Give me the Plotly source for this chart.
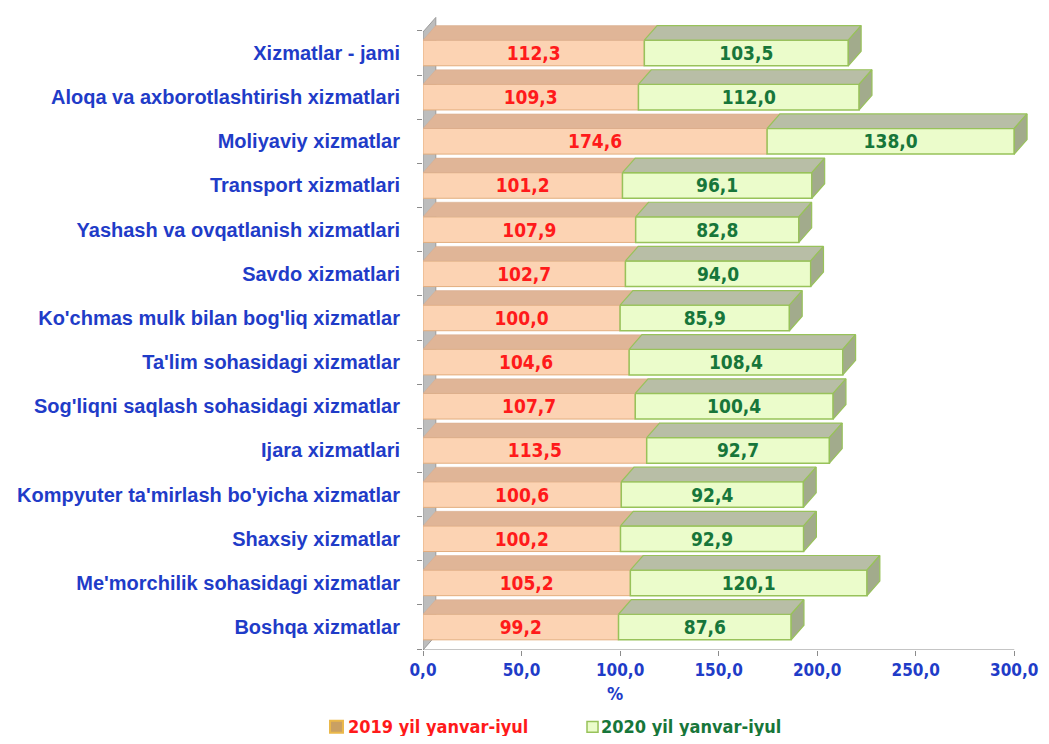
import numpy as np
import plotly.graph_objects as go

categories = [
    "Xizmatlar - jami",
    "Aloqa va axborotlashtirish xizmatlari",
    "Moliyaviy xizmatlar",
    "Transport xizmatlari",
    "Yashash va ovqatlanish xizmatlari",
    "Savdo xizmatlari",
    "Ko'chmas mulk bilan bog'liq xizmatlar",
    "Ta'lim sohasidagi xizmatlar",
    "Sog'liqni saqlash sohasidagi xizmatlar",
    "Ijara xizmatlari",
    "Kompyuter ta'mirlash bo'yicha xizmatlar",
    "Shaxsiy xizmatlar",
    "Me'morchilik sohasidagi xizmatlar",
    "Boshqa xizmatlar",
]
values_2019 = [112.3, 109.3, 174.6, 101.2, 107.9, 102.7, 100.0, 104.6, 107.7, 113.5, 100.6, 100.2, 105.2, 99.2]
values_2020 = [103.5, 112.0, 138.0, 96.1, 82.8, 94.0, 85.9, 108.4, 100.4, 92.7, 92.4, 92.9, 120.1, 87.6]
series_names = ["2019 yil yanvar-iyul", "2020 yil yanvar-iyul"]
series_text_colors = ["#ff1a1a", "#17763a"]
x_ticks = [0, 50, 100, 150, 200, 250, 300]

XMAX = 300.0
DX = 6.5      # depth offset (x units)
DY = 0.33     # depth offset (category units)
W = 0.58      # bar thickness
YLO, YHI = -0.52, 13.86

n = len(categories)
ypos = np.arange(n)[::-1].astype(float)
v1 = np.array(values_2019)
v2 = np.array(values_2020)
end = np.minimum(v1 + v2, XMAX)
v2_draw = end - v1

def fmt(v):
    return f"{v:.1f}".replace(".", ",")

NARROW = "DejaVu Sans Condensed, Liberation Sans Narrow, Arial Narrow, sans-serif"
SANS = "Liberation Sans, Arial"
BLUE = "#1f3cc8"

fig = go.Figure()

# front faces (bars)
fig.add_trace(go.Bar(
    y=ypos, x=v1, base=0, orientation="h", width=W, name=series_names[0],
    marker=dict(color="#fcd3b3", line=dict(color="#e2ad7e", width=1)),
    text=[fmt(v) for v in v1], textposition="inside", insidetextanchor="middle",
    textangle=0, constraintext="none",
    textfont=dict(color=series_text_colors[0], size=19, family=NARROW, weight="bold"),
    hoverinfo="skip"))
fig.add_trace(go.Bar(
    y=ypos, x=v2_draw, base=v1, orientation="h", width=W, name=series_names[1],
    marker=dict(color="#ebfccb", line=dict(color="#98c25a", width=1.5)),
    text=[fmt(v) for v in v2], textposition="inside", insidetextanchor="middle",
    textangle=0, constraintext="none",
    textfont=dict(color=series_text_colors[1], size=19, family=NARROW, weight="bold"),
    hoverinfo="skip"))

# top faces and side faces
def polys(xs_list, ys_list):
    X, Y = [], []
    for xs, ys in zip(xs_list, ys_list):
        X += list(xs) + [xs[0], None]
        Y += list(ys) + [ys[0], None]
    return X, Y

yt = ypos + W / 2
yb = ypos - W / 2
ox, oy = polys([[0, a, a + DX, DX] for a in v1],
               [[t, t, t + DY, t + DY] for t in yt])
fig.add_trace(go.Scatter(x=ox, y=oy, fill="toself", fillcolor="#e0b597", mode="lines",
                         line=dict(color="#d9ac8c", width=0.5), hoverinfo="skip", showlegend=False))
gx, gy = polys([[a, e, e + DX, a + DX] for a, e in zip(v1, end)],
               [[t, t, t + DY, t + DY] for t in yt])
fig.add_trace(go.Scatter(x=gx, y=gy, fill="toself", fillcolor="#b8bea6", mode="lines",
                         line=dict(color="#98c25a", width=1.2), hoverinfo="skip", showlegend=False))
sx, sy = polys([[e, e, e + DX, e + DX] for e in end],
               [[b, t, t + DY, b + DY] for b, t in zip(yb, yt)])
fig.add_trace(go.Scatter(x=sx, y=sy, fill="toself", fillcolor="#a2ab8c", mode="lines",
                         line=dict(color="#98c25a", width=1.2), hoverinfo="skip", showlegend=False))

wall_top = ypos.max() + 0.475
wall_path = (f"M 0,{YLO} L 0,{wall_top} L {DX},{wall_top + DY} "
             f"L {DX},{YLO + DY} Z")

# legend (drawn as paper-positioned keys + labels)
LEG_Y = -0.121
legend_keys = [
    dict(type="rect", xref="paper", yref="paper", x0=-0.1527, x1=-0.1314,
         y0=LEG_Y - 0.0095, y1=LEG_Y + 0.0095,
         fillcolor="#c9a063", line=dict(color="#eab84a", width=2)),
    dict(type="rect", xref="paper", yref="paper", x0=0.2693, x1=0.2874,
         y0=LEG_Y - 0.0085, y1=LEG_Y + 0.0085,
         fillcolor="#ebfccb", line=dict(color="#98c25a", width=1.5)),
]
legend_labels = [
    dict(text=series_names[0], xref="paper", yref="paper", x=-0.1264, y=LEG_Y,
         xanchor="left", yanchor="middle", showarrow=False,
         font=dict(family=NARROW, size=18, color=series_text_colors[0], weight="bold")),
    dict(text=series_names[1], xref="paper", yref="paper", x=0.289, y=LEG_Y,
         xanchor="left", yanchor="middle", showarrow=False,
         font=dict(family=NARROW, size=18, color=series_text_colors[1], weight="bold")),
]

fig.update_layout(
    width=1033, height=728,
    margin=dict(l=415, r=9, t=7, b=86, autoexpand=False),
    paper_bgcolor="white", plot_bgcolor="white",
    barmode="overlay", separators=", ",
    showlegend=False,
    xaxis=dict(range=[0, 309], tickmode="array", tickvals=x_ticks,
               ticktext=[fmt(v) for v in x_ticks],
               showgrid=False, zeroline=False, showline=False,
               ticks="outside", ticklen=5, tickcolor="#8c8c8c",
               tickfont=dict(family=NARROW, size=17, color=BLUE, weight="bold")),
    yaxis=dict(range=[YLO, YHI], tickmode="array", tickvals=ypos, ticktext=categories,
               showgrid=False, zeroline=False, showline=False, ticks="",
               ticklabelstandoff=22,
               minor=dict(tickmode="array", tickvals=list(np.arange(-0.5, n, 1.0)),
                          ticks="outside", ticklen=5, tickcolor="#8c8c8c", showgrid=False),
               tickfont=dict(family=SANS, size=20, color=BLUE, weight="bold")),
    shapes=[
        dict(type="path", xref="x", yref="y", path=wall_path, layer="below",
             fillcolor="#bdbdbd", line=dict(color="#9a9a9a", width=1)),
        dict(type="line", xref="x", yref="y", x0=0, x1=XMAX, y0=YLO, y1=YLO,
             line=dict(color="#8c8c8c", width=1.2)),
    ] + legend_keys,
    annotations=[dict(text="%", xref="x", yref="paper", x=97.5, y=-0.069,
                      showarrow=False, yanchor="middle",
                      font=dict(family=NARROW, size=18, color=BLUE, weight="bold"))]
    + legend_labels,
)

fig.write_html("out.html")
